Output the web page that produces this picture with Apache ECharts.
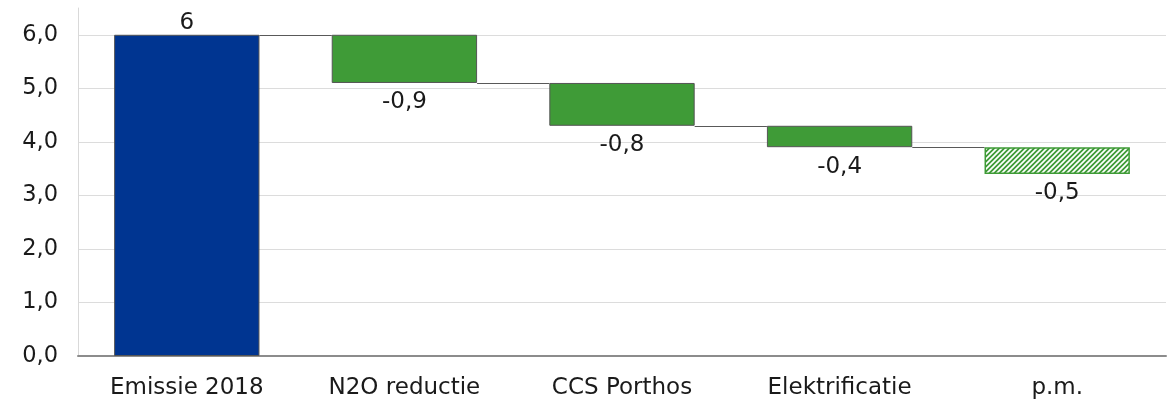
<!DOCTYPE html>
<html><head><meta charset="utf-8">
<script src="https://cdn.jsdelivr.net/npm/echarts@6/dist/echarts.min.js"></script>
<style>html,body{margin:0;padding:0;background:#fff}#c{width:1174px;height:404px}</style>
</head><body><div id="c"></div>
<script>
var categories = ['Emissie 2018', 'N2O reductie', 'CCS Porthos', 'Elektrificatie', 'p.m.'];
var values = [6, -0.9, -0.8, -0.4, -0.5];
var hatched = [false, false, false, false, true];
var yTicks = [0, 1, 2, 3, 4, 5, 6];

var BLUE = '#003591', GREEN = '#3f9b37';
var FONT = 'DejaVu Sans';

// waterfall bases/heights derived from values
var bases = [], heights = [], levels = [];
var run = 0;
values.forEach(function (v, i) {
  if (i === 0) { bases.push(0); heights.push(v); run = v; }
  else { var nxt = run + v; bases.push(Math.min(run, nxt)); heights.push(Math.abs(v)); run = nxt; }
  levels.push(run);
});

// hatch pattern
var P = 5;
var pc = document.createElement('canvas');
pc.width = P; pc.height = P;
var g = pc.getContext('2d');
g.fillStyle = GREEN; g.fillRect(0, 0, P, P);
g.strokeStyle = '#ffffff'; g.lineWidth = 1.7;
g.beginPath();
g.moveTo(-1, P + 1); g.lineTo(P + 1, -1);
g.moveTo(-1, 1); g.lineTo(1, -1);
g.moveTo(P - 1, P + 1); g.lineTo(P + 1, P - 1);
g.stroke();

function fmt(v) { return String(v).replace('.', ','); }

var chart = echarts.init(document.getElementById('c'), null, {renderer: 'canvas'});
chart.setOption({
  animation: false,
  textStyle: {fontFamily: FONT},
  grid: {left: 78, right: 8, top: 8, bottom: 48, containLabel: false},
  xAxis: {
    type: 'category', data: categories,
    axisLine: {lineStyle: {color: '#8c8c8c', width: 2}},
    axisTick: {show: false},
    axisLabel: {color: '#1a1a1a', fontSize: 23, fontFamily: FONT, margin: 21, interval: 0}
  },
  yAxis: {
    type: 'value', min: 0, max: 6.5, interval: 1,
    axisLine: {show: true, lineStyle: {color: '#d9d9d9', width: 1}},
    axisTick: {show: false},
    axisLabel: {color: '#1a1a1a', fontSize: 22.5, fontFamily: FONT, margin: 20, showMaxLabel: false,
      formatter: function (v) { return yTicks.indexOf(v) >= 0 ? v.toFixed(1).replace('.', ',') : ''; }},
    splitLine: {show: true, showMaxLine: false, lineStyle: {color: '#dcdcdc', width: 1}}
  },
  series: [
    {
      type: 'bar', stack: 'w', data: bases, barWidth: '66.8%',
      itemStyle: {color: 'transparent'}, silent: true
    },
    {
      type: 'bar', stack: 'w', barWidth: '66.8%',
      data: heights.map(function (h, i) {
        var col = i === 0 ? BLUE : (hatched[i] ? {image: pc, repeat: 'repeat'} : GREEN);
        return {
          value: h,
          itemStyle: {color: col, borderColor: hatched[i] ? GREEN : '#555555', borderWidth: hatched[i] ? 1.5 : 1},
          label: {show: true, position: values[i] >= 0 ? 'top' : 'bottom', distance: values[i] >= 0 ? 0 : 8,
            formatter: fmt(values[i]), color: '#1a1a1a', fontSize: 23, fontFamily: FONT}
        };
      })
    },
    {
      type: 'custom',
      data: levels.slice(0, levels.length - 1).map(function (l, i) { return [i, l]; }),
      renderItem: function (params, api) {
        var i = api.value(0), lv = api.value(1);
        var p1 = api.coord([i, lv]), p2 = api.coord([i + 1, lv]);
        var half = api.size([1, 0])[0] * 0.668 / 2;
        return {
          type: 'line',
          shape: {x1: p1[0] + half, y1: Math.round(p1[1]) + 0.5, x2: p2[0] - half, y2: Math.round(p1[1]) + 0.5},
          style: {stroke: '#595959', lineWidth: 1}
        };
      },
      z: 1, silent: true
    }
  ]
});
</script></body></html>
